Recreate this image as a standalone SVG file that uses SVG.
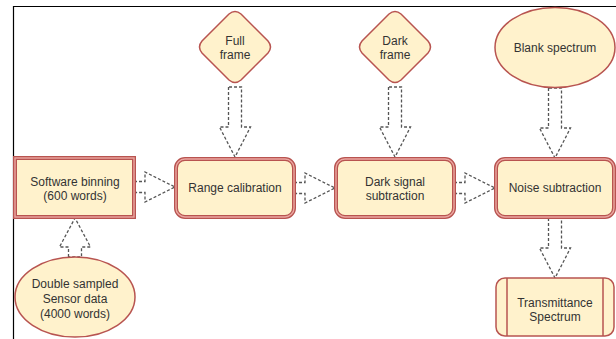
<svg xmlns="http://www.w3.org/2000/svg" width="616" height="339" viewBox="0 0 616 339">
<style>
.box{fill:#fff2cc;stroke:#b85450;stroke-width:4}
.inner{fill:none;stroke:#eba7a1;stroke-width:1.4}
.shape{fill:#fff2cc;stroke:#b85450;stroke-width:1.5}
.arr{fill:#fff;stroke:#555;stroke-width:1.3;stroke-dasharray:3 2}
text{font-family:"Liberation Sans",Arial,sans-serif;font-size:12px;fill:#333;text-anchor:middle}
</style>
<rect width="616" height="339" fill="#fff"/>
<path d="M13.5 339V6.5H616" fill="none" stroke="#000" stroke-width="1.2"/>
<g id="connectors">
<path class="arr" d="M134 181.5H145V172L175 187L145 202V192.5H134Z"/>
<path class="arr" d="M294 182.5H305V173L335 188L305 203V193.5H294Z"/>
<path class="arr" d="M454 182.5H465V173L495 188L465 203V193.5H454Z"/>
<path class="arr" d="M228.5 87V127H219.5L235 157L250.5 127H241.5V87Z"/>
<path class="arr" d="M388.5 87V127H379.5L395 157L410.5 127H401.5V87Z"/>
<path class="arr" d="M548.5 88V128H539.5L555 158L570.5 128H561.5V88Z"/>
<path class="arr" d="M548.5 218V248H539.5L555 278L570.5 248H561.5V218Z"/>
<path class="arr" d="M68.5 257V247H59.5L75 218L90.5 247H81.5V257Z"/>
</g>
<g id="software-binning">
<rect class="box" x="15" y="158" width="119" height="59"/>
<rect class="inner" x="15" y="158" width="119" height="59"/>
<text x="75" y="186">Software binning</text>
<text x="75" y="200">(600 words)</text>
</g>
<g id="range-calibration">
<rect class="box" x="176" y="159" width="118" height="58" rx="9"/>
<rect class="inner" x="176" y="159" width="118" height="58" rx="9"/>
<text x="235" y="192">Range calibration</text>
</g>
<g id="dark-signal">
<rect class="box" x="336" y="159" width="118" height="58" rx="9"/>
<rect class="inner" x="336" y="159" width="118" height="58" rx="9"/>
<text x="395" y="186">Dark signal</text>
<text x="395" y="200">subtraction</text>
</g>
<g id="noise-subtraction">
<rect class="box" x="496" y="159" width="118" height="58" rx="9"/>
<rect class="inner" x="496" y="159" width="118" height="58" rx="9"/>
<text x="555" y="192">Noise subtraction</text>
</g>
<g id="full-frame">
<path class="shape" d="M229 14Q235 9 241 14L268 41Q273 47 268 53L241 80Q235 85 229 80L202 53Q197 47 202 41Z"/>
<text x="235" y="45">Full</text>
<text x="235" y="59">frame</text>
</g>
<g id="dark-frame">
<path class="shape" d="M389 14Q395 9 401 14L428 41Q433 47 428 53L401 80Q395 85 389 80L362 53Q357 47 362 41Z"/>
<text x="395" y="45">Dark</text>
<text x="395" y="59">frame</text>
</g>
<g id="blank-spectrum">
<ellipse class="shape" cx="555" cy="47.5" rx="60" ry="40"/>
<text x="555" y="52">Blank spectrum</text>
</g>
<g id="double-sampled">
<ellipse class="shape" cx="75" cy="297" rx="60" ry="40"/>
<text x="75" y="288">Double sampled</text>
<text x="75" y="303">Sensor data</text>
<text x="75" y="318">(4000 words)</text>
</g>
<g id="transmittance">
<rect class="shape" x="496" y="278" width="118" height="58" rx="9"/>
<path d="M507 278V336M603 278V336" fill="none" stroke="#b85450" stroke-width="1.5"/>
<text x="555" y="307">Transmittance</text>
<text x="555" y="321">Spectrum</text>
</g>
</svg>
